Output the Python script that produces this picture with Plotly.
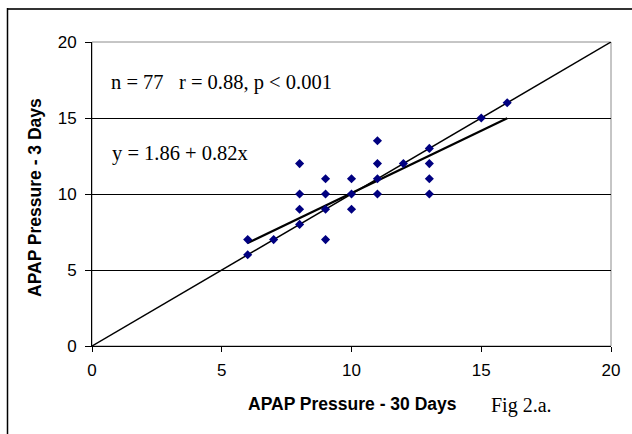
import plotly.graph_objects as go

# Data (unique visible points)
x_30days = [6, 6, 7, 8, 8, 8, 8, 9, 9, 9, 9, 10, 10, 10, 11, 11, 11, 11, 12, 13, 13, 13, 13, 15, 16]
y_3days  = [7, 6, 7, 12, 10, 9, 8, 11, 10, 9, 7, 11, 10, 9, 13.5, 12, 11, 10, 12, 13, 12, 11, 10, 15, 16]

identity_x = [0, 20]
identity_y = [0, 20]

reg_intercept = 1.86
reg_slope = 0.82
reg_x = [6, 16]
reg_y = [reg_intercept + reg_slope * v for v in reg_x]

tick_vals = [0, 5, 10, 15, 20]

W, H = 632, 434
ML, MR, MT, MB = 92, 21, 42, 88
PW, PH = W - ML - MR, H - MT - MB

def px_x(p):
    return (p - ML) / PW

def px_y(p):
    return (H - MB - p) / PH

SANS = "Liberation Sans, Arial, sans-serif"
SERIF = "Liberation Serif, Times New Roman, serif"

fig = go.Figure()
fig.add_trace(go.Scatter(x=identity_x, y=identity_y, mode="lines",
                         line=dict(color="black", width=1.5), hoverinfo="skip"))
fig.add_trace(go.Scatter(x=reg_x, y=reg_y, mode="lines",
                         line=dict(color="black", width=2.2), hoverinfo="skip"))
fig.add_trace(go.Scatter(x=x_30days, y=y_3days, mode="markers",
                         marker=dict(symbol="diamond", size=7, color="#000080",
                                     line=dict(width=0))))

fig.update_layout(
    width=W, height=H,
    margin=dict(l=ML, r=MR, t=MT, b=MB),
    paper_bgcolor="white", plot_bgcolor="white",
    showlegend=False,
    font=dict(family=SANS, size=17, color="black"),
    xaxis=dict(range=[0, 20], tickvals=tick_vals, showgrid=False, zeroline=False,
               showline=True, linecolor="black", linewidth=1, automargin=False,
               ticks="outside", ticklen=5, tickcolor="black", ticklabelstandoff=4,
               tickfont=dict(family=SANS, size=17)),
    yaxis=dict(range=[0, 20], tickvals=tick_vals, showgrid=True, gridcolor="black", gridwidth=1,
               zeroline=False, showline=True, linecolor="black", linewidth=1, automargin=False,
               ticks="outside", ticklen=6, tickcolor="black", ticklabelstandoff=5,
               tickfont=dict(family=SANS, size=17)),
    shapes=[
        dict(type="rect", xref="paper", yref="paper", x0=0, x1=1, y0=0, y1=1,
             line=dict(color="#8c8c8c", width=1), layer="below"),
        dict(type="line", xref="paper", yref="paper", x0=px_x(7), x1=px_x(640),
             y0=px_y(9), y1=px_y(9), line=dict(color="#333333", width=2)),
        dict(type="line", xref="paper", yref="paper", x0=px_x(7.5), x1=px_x(7.5),
             y0=px_y(8), y1=px_y(440), line=dict(color="black", width=1.5)),
    ],
    annotations=[
        dict(text="<b>APAP Pressure - 30 Days</b>", xref="paper", yref="paper",
             x=px_x(352), y=px_y(404), xanchor="center", yanchor="middle", showarrow=False,
             font=dict(family=SANS, size=17.5)),
        dict(text="<b>APAP Pressure - 3 Days</b>", xref="paper", yref="paper", textangle=-90,
             x=px_x(35), y=px_y(198), xanchor="center", yanchor="middle", showarrow=False,
             font=dict(family=SANS, size=17.5)),
        dict(text="n = 77   r = 0.88, p &lt; 0.001", xref="paper", yref="paper",
             x=px_x(109), y=px_y(83), xanchor="left", yanchor="middle", showarrow=False,
             font=dict(family=SERIF, size=20.5)),
        dict(text="y = 1.86 + 0.82x", xref="paper", yref="paper",
             x=px_x(110), y=px_y(153), xanchor="left", yanchor="middle", showarrow=False,
             font=dict(family=SERIF, size=20.5)),
        dict(text="Fig 2.a.", xref="paper", yref="paper",
             x=px_x(489), y=px_y(405), xanchor="left", yanchor="middle", showarrow=False,
             font=dict(family=SERIF, size=20)),
    ],
)

fig.write_html("out.html", config={"displayModeBar": False},
               post_script="document.body.style.margin='0';document.body.style.overflow='hidden';")
